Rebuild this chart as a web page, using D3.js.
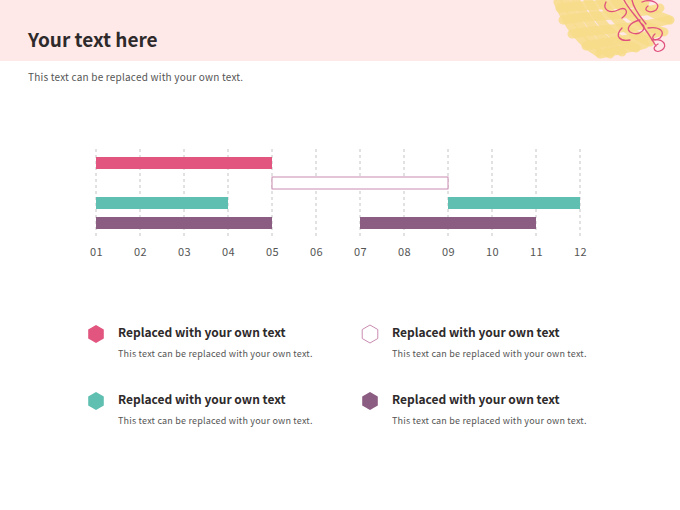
<!DOCTYPE html>
<meta charset="utf-8">
<head>
<script src="https://cdn.jsdelivr.net/npm/d3@7"></script>
<style>
	body { margin: 0; background: #fff; }
	#chart svg { display: block; }
	text { font-family: "Noto Sans CJK KR", "Noto Sans", sans-serif; }
</style>
</head>
<body>
<div id="chart"></div>
<script type="text/javascript">
	// months on the x axis
	var months = [1, 2, 3, 4, 5, 6, 7, 8, 9, 10, 11, 12];
	var rows = ["row1", "row2", "row3", "row4"];
	// one entry per bar: which row, start month, end month, which series
	var barRow = ["row1", "row2", "row3", "row3", "row4", "row4"];
	var barStart = [1, 5, 1, 9, 1, 7];
	var barEnd = [5, 9, 4, 12, 5, 11];
	var barSeries = [0, 1, 2, 2, 3, 3];

	var legendTitles = ["Replaced with your own text", "Replaced with your own text", "Replaced with your own text", "Replaced with your own text"];
	var legendTexts = ["This text can be replaced with your own text.", "This text can be replaced with your own text.", "This text can be replaced with your own text.", "This text can be replaced with your own text."];

	var colors = ["#e1557f", "#ffffff", "#5fbfb1", "#8c5d82"];
	var strokes = ["none", "#c98bb2", "none", "none"];

	var W = 680, H = 510;

	var svg = d3.select("#chart").append("svg")
		.attr("width", W)
		.attr("height", H);

	// header band
	svg.append("rect")
		.attr("x", 0).attr("y", 0)
		.attr("width", W).attr("height", 61)
		.style("fill", "#fee9e8");

	// scribble decoration top right
	var deco = svg.append("g").attr("class", "deco");
	var yellow = [
		"M558,2 C568,25 580,42 598,52", "M565,0 C578,25 592,45 610,54", "M575,0 C588,22 602,42 622,52",
		"M588,0 C598,20 612,40 636,48", "M600,0 C612,15 625,32 650,42", "M615,0 C626,14 640,26 664,32",
		"M632,0 C644,8 656,16 670,20", "M560,8 C585,4 612,6 645,2", "M563,20 C592,14 620,18 660,8",
		"M572,34 C600,28 630,30 668,20", "M586,46 C612,40 635,40 660,32", "M600,54 C618,50 632,48 645,44"
	];
	deco.selectAll("path.y")
		.data(yellow)
		.enter().append("path")
		.attr("class", "y")
		.attr("d", function(d) { return d; })
		.style("fill", "none")
		.style("stroke", "#f7dc88")
		.style("stroke-width", 9)
		.style("stroke-linecap", "round")
		.style("opacity", 0.85);
	var pink = [
		"M624,0 C628,8 634,14 640,22 C646,30 650,36 656,46",
		"M632,0 C634,10 640,16 646,24",
		"M606,2 C602,10 610,14 618,10 C626,6 630,12 622,18",
		"M640,20 C630,22 624,30 632,33 C640,36 648,28 642,24",
		"M648,28 C660,26 666,32 660,38 C654,42 650,38 655,34",
		"M622,28 C614,36 620,42 630,40",
		"M652,40 C664,38 668,46 662,50 C656,54 650,48 658,44",
		"M642,2 C652,-2 662,4 656,10 C650,14 642,10 648,6"
	];
	deco.selectAll("path.p")
		.data(pink)
		.enter().append("path")
		.attr("class", "p")
		.attr("d", function(d) { return d; })
		.style("fill", "none")
		.style("stroke", "#e0507e")
		.style("stroke-width", 1.3)
		.style("stroke-linecap", "round");

	svg.append("text")
		.attr("x", 28).attr("y", 47)
		.style("font-size", "19px")
		.style("font-weight", "bold")
		.style("fill", "#2e2a2b")
		.text("Your text here");

	svg.append("text")
		.attr("x", 28).attr("y", 81)
		.style("font-size", "10px")
		.style("letter-spacing", "0.2px")
		.style("fill", "#555")
		.text("This text can be replaced with your own text.");

	// chart
	var xScale = d3.scaleLinear()
		.domain([1, 12])
		.range([96, 580]);

	var yScale = d3.scaleBand()
		.domain(rows)
		.range([153, 233])
		.paddingInner(0.4)
		.paddingOuter(0.2);

	svg.append("g")
		.attr("class", "grid")
		.selectAll("line")
		.data(months)
		.enter().append("line")
		.attr("x1", function(d) { return xScale(d); })
		.attr("x2", function(d) { return xScale(d); })
		.attr("y1", 149)
		.attr("y2", 237)
		.style("stroke", "#c4c4c4")
		.style("stroke-width", 1)
		.style("stroke-dasharray", "3,3");

	var xAxis = d3.axisBottom(xScale)
		.tickValues(months)
		.tickSize(0)
		.tickFormat(function(d) { return d < 10 ? "0" + d : "" + d; });

	var xaxis_g = svg.append("g")
		.attr("class", "x axis")
		.attr("transform", "translate(0,237)")
		.call(xAxis);

	xaxis_g.select(".domain").remove();
	xaxis_g.selectAll("text")
		.attr("y", 11)
		.style("font-family", "'Noto Sans CJK KR', 'Noto Sans', sans-serif")
		.style("font-size", "11px")
		.style("letter-spacing", "0.3px")
		.style("fill", "#555");

	var bars = barRow.map(function(r, i) {
		return { row: r, start: barStart[i], end: barEnd[i], series: barSeries[i] };
	});

	svg.append("g")
		.attr("class", "bars")
		.selectAll("rect")
		.data(bars)
		.enter().append("rect")
		.attr("x", function(d) { return xScale(d.start); })
		.attr("y", function(d) { return yScale(d.row); })
		.attr("width", function(d) { return xScale(d.end) - xScale(d.start); })
		.attr("height", yScale.bandwidth())
		.style("fill", function(d) { return colors[d.series]; })
		.style("stroke", function(d) { return strokes[d.series]; })
		.style("stroke-width", 1);

	// legend
	var hex = function(r) {
		var pts = [];
		for (var k = 0; k < 6; k++) {
			var a = Math.PI / 3 * k - Math.PI / 2;
			pts.push([r * Math.cos(a), r * Math.sin(a)]);
		}
		return "M" + pts.join("L") + "Z";
	};

	var legend = svg.append("g")
		.attr("class", "legend_area")
		.selectAll("g")
		.data(legendTitles)
		.enter().append("g")
		.attr("transform", function(d, i) {
			var col = (i === 1 || i === 3) ? 1 : 0;
			var row = i < 2 ? 0 : 1;
			return "translate(" + (96 + col * 274) + "," + (334 + row * 67) + ")";
		});

	legend.append("path")
		.attr("d", hex(9))
		.style("fill", function(d, i) { return colors[i]; })
		.style("stroke", function(d, i) { return strokes[i]; })
		.style("stroke-width", 1);

	legend.append("text")
		.attr("x", 22)
		.attr("y", 3)
		.style("font-size", "12px")
		.style("font-weight", "bold")
		.style("fill", "#2e2a2b")
		.text(function(d) { return d; });

	legend.append("text")
		.attr("x", 22)
		.attr("y", 23)
		.style("font-size", "9px")
		.style("letter-spacing", "0.2px")
		.style("fill", "#555")
		.text(function(d, i) { return legendTexts[i]; });
</script>
</body>
